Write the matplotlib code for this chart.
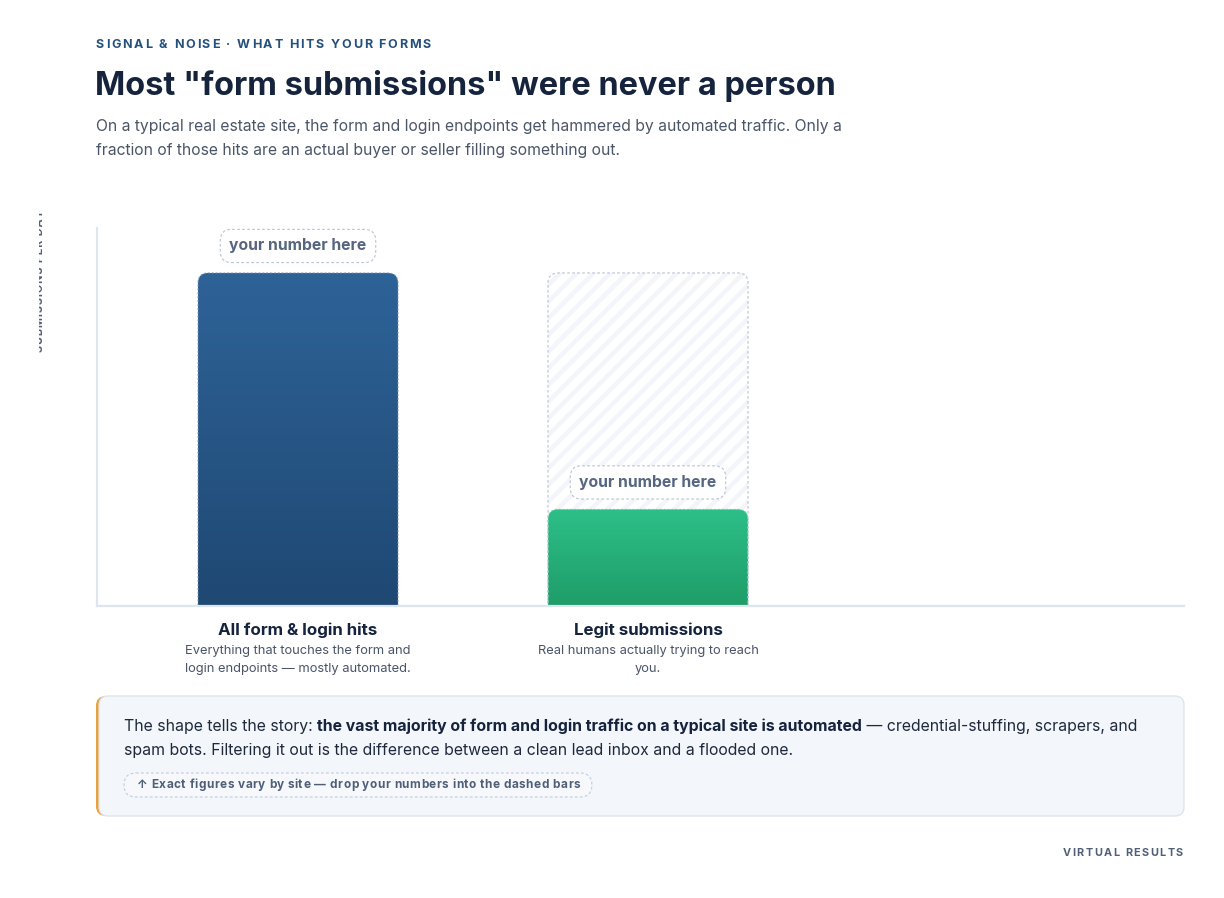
import numpy as np
import matplotlib
matplotlib.use("Agg")
import matplotlib.pyplot as plt
from matplotlib.patches import FancyBboxPatch
from matplotlib.colors import to_rgb
from matplotlib.transforms import Bbox

plt.rcParams['font.family'] = ['Inter', 'DejaVu Sans']
plt.rcParams['hatch.linewidth'] = 3.2

# 数据
categories = ['All form & login hits', 'Legit submissions']
descriptions = ['Everything that touches the form and\nlogin endpoints — mostly automated.',
                'Real humans actually trying to reach\nyou.']
values = [100, 29]
ghost_values = [100, 100]
pill_labels = ['your number here', 'your number here']
y_max = 113.5

kicker = 'SIGNAL & NOISE · WHAT HITS YOUR FORMS'
title = 'Most "form submissions" were never a person'
subtitle = ['On a typical real estate site, the form and login endpoints get hammered by automated traffic. Only a',
            'fraction of those hits are an actual buyer or seller filling something out.']
ylabel = 'SUBMISSIONS PER DAY'
callout_lines = [
    [('The shape tells the story: ', 'normal'),
     ('the vast majority of form and login traffic on a typical site is automated', 'bold'),
     (' — credential-stuffing, scrapers, and', 'normal')],
    [('spam bots. Filtering it out is the difference between a clean lead inbox and a flooded one.', 'normal')],
]
note = '↑ Exact figures vary by site — drop your numbers into the dashed bars'
footer = 'VIRTUAL RESULTS'

# 颜色
DARK = '#15233d'
TEXT = '#4a5568'
AXIS = '#dde5ef'
BLUE = ('#2e6398', '#1f4873')
GREEN = ('#2dbf88', '#1f9d69')
PILL_TXT = '#566681'
DASH = '#b9c4d5'

W, H = 1224, 898
fig = plt.figure(figsize=(W / 100, H / 100), dpi=100)
fig.patch.set_facecolor('white')
renderer = fig.canvas.get_renderer()

# 主坐标轴 (像素位置)
ax_l, ax_r, ax_t, ax_b = 97, 1184, 228, 606
ax = fig.add_axes([ax_l / W, 1 - ax_b / H, (ax_r - ax_l) / W, (ax_b - ax_t) / H])
pos = np.arange(len(categories))
step_px = 350
bar_w = 200 / step_px
ax.set_xlim(-(298 - ax_l) / step_px, 1 + (ax_r - 648) / step_px)
ax.set_ylim(0, y_max)
for s in ['top', 'right']:
    ax.spines[s].set_visible(False)
for s in ['left', 'bottom']:
    ax.spines[s].set_color(AXIS)
    ax.spines[s].set_linewidth(1.6)
    ax.spines[s].set_zorder(6)
ax.set_xticks([])
ax.set_yticks([])
ax.set_facecolor('none')

px_y = y_max / (ax_b - ax_t)
rad = 10 / step_px
aspect = px_y * step_px


def grad_img(c_top, c_bot, n=256):
    a = np.array(to_rgb(c_top))
    b = np.array(to_rgb(c_bot))
    t = np.linspace(0, 1, n)[:, None]
    return (a * (1 - t) + b * t)[:, None, :]


def rbar(x, h, **kw):
    p = FancyBboxPatch((x - bar_w / 2, -20), bar_w, h + 20,
                       boxstyle=f'round,pad=0,rounding_size={rad}',
                       mutation_aspect=aspect, **kw)
    ax.add_patch(p)
    return p


# 虚影条 (斜线底纹)
gx, gh = pos[1], ghost_values[1]
rbar(gx, gh, facecolor='white', edgecolor='#f3f5fa', linewidth=0, hatch='//', zorder=1)
rbar(gx, gh, facecolor='none', edgecolor=DASH, linewidth=0.8, linestyle=(0, (2.5, 2)), zorder=4)

# 渐变条
for i, (v, cols) in enumerate(zip(values, [BLUE, GREEN])):
    clip = rbar(pos[i], v, facecolor='none', edgecolor='none', zorder=2)
    im = ax.imshow(grad_img(*cols), extent=(pos[i] - bar_w / 2, pos[i] + bar_w / 2, 0, v),
                   aspect='auto', origin='upper', interpolation='bilinear', zorder=2)
    im.set_clip_path(clip)
    edge = '#7d97b8' if i == 0 else '#5fcf9f'
    rbar(pos[i], v, facecolor='none', edgecolor=edge, linewidth=0.8,
         linestyle=(0, (2, 1.5)), alpha=0.8, zorder=3)

# 数值标签
for i, v in enumerate(values):
    ax.annotate(pill_labels[i], xy=(pos[i], v), xytext=(0, 27), textcoords='offset pixels',
                ha='center', va='center', fontsize=11.3, fontweight='bold', color=PILL_TXT,
                annotation_clip=False, zorder=7,
                bbox=dict(boxstyle='round,pad=0.58,rounding_size=0.7', facecolor='white',
                          edgecolor=DASH, linewidth=0.8, linestyle=(0, (2.5, 2))))

# 类别标签
xt = ax.get_xaxis_transform()
for i, (c, d) in enumerate(zip(categories, descriptions)):
    ax.annotate(c, xy=(pos[i], 0), xycoords=xt, xytext=(0, -24), textcoords='offset pixels',
                ha='center', va='center', fontsize=12.2, fontweight='bold', color=DARK,
                annotation_clip=False)
    ax.annotate(d, xy=(pos[i], 0), xycoords=xt, xytext=(0, -39), textcoords='offset pixels',
                ha='center', va='top', fontsize=9.3, color=TEXT, linespacing=1.65,
                annotation_clip=False)

# 覆盖层 (像素坐标)
ov = fig.add_axes([0, 0, 1, 1], zorder=10)
ov.set_xlim(0, W)
ov.set_ylim(H, 0)
ov.axis('off')
ov.patch.set_alpha(0)


def width_of(s, **kw):
    t1 = ov.text(0, 0, 'x' + s + 'x', **kw)
    t2 = ov.text(0, 0, 'xx', **kw)
    w = t1.get_window_extent(renderer).width - t2.get_window_extent(renderer).width
    t1.remove()
    t2.remove()
    return w


def tracked(x, y, s, track, ha='left', zorder=3, **kw):
    ws = [width_of(ch, **kw) for ch in s]
    total = sum(ws) + track * (len(s) - 1)
    if ha == 'right':
        x = x - total
    for ch, w in zip(s, ws):
        ov.text(x, y, ch, ha='left', va='center', zorder=zorder, **kw)
        x += w + track
    return total


tracked(96, 45, kicker, 1.8, fontsize=9.0, fontweight='bold', color='#24507e')
ov.text(95, 86, title, ha='left', va='center', fontsize=23.4, fontweight='bold', color=DARK)
for k, line in enumerate(subtitle):
    ov.text(96, 127 + 24 * k, line, ha='left', va='center', fontsize=11.3, color=TEXT)

# 纵轴标签 (左侧被裁剪)
yl = ov.text(40.5, 352, '\u200a'.join(ylabel), rotation=90, ha='center', va='bottom',
             fontsize=7.8, fontweight='bold', color='#4f6079')
yl.set_clip_box(Bbox([[38.5, 0], [300, H]]))
yl.set_clip_on(True)

# 说明框
cx0, cx1, cy0, cy1 = 96, 1184, 696, 816
ov.add_patch(FancyBboxPatch((cx0, cy0), cx1 - cx0, cy1 - cy0,
                            boxstyle='round,pad=0,rounding_size=10',
                            facecolor='#e8a23a', edgecolor='none', zorder=1))
ov.add_patch(FancyBboxPatch((cx0 + 3, cy0), cx1 - cx0 - 3, cy1 - cy0,
                            boxstyle='round,pad=0,rounding_size=9',
                            facecolor='#f3f6fb', edgecolor='#dde3ed', linewidth=0.9, zorder=2))
for k, runs in enumerate(callout_lines):
    x = 124
    for s, wt in runs:
        kw = dict(fontsize=11.4, fontweight=wt, color=DARK if wt == 'bold' else '#1e293b')
        ov.text(x, 726 + 24 * k, s, ha='left', va='center', zorder=3, **kw)
        x += width_of(s, **kw)

note_kw = dict(fontsize=8.5, fontweight='bold', color='#4f5f78')
note_w = tracked(137, 785, note, 0.5, zorder=4, **note_kw)
ov.add_patch(FancyBboxPatch((124, 773), note_w + 13 + 12, 24,
                            boxstyle='round,pad=0,rounding_size=12',
                            facecolor='#f6f8fc', edgecolor='#c3ccda', linewidth=0.8,
                            linestyle=(0, (2.5, 2)), zorder=3))

tracked(1183, 853, footer, 1.5, ha='right', fontsize=7.8, fontweight='bold', color='#4f5f78')

fig.savefig('out.png', dpi=100, facecolor='white')
